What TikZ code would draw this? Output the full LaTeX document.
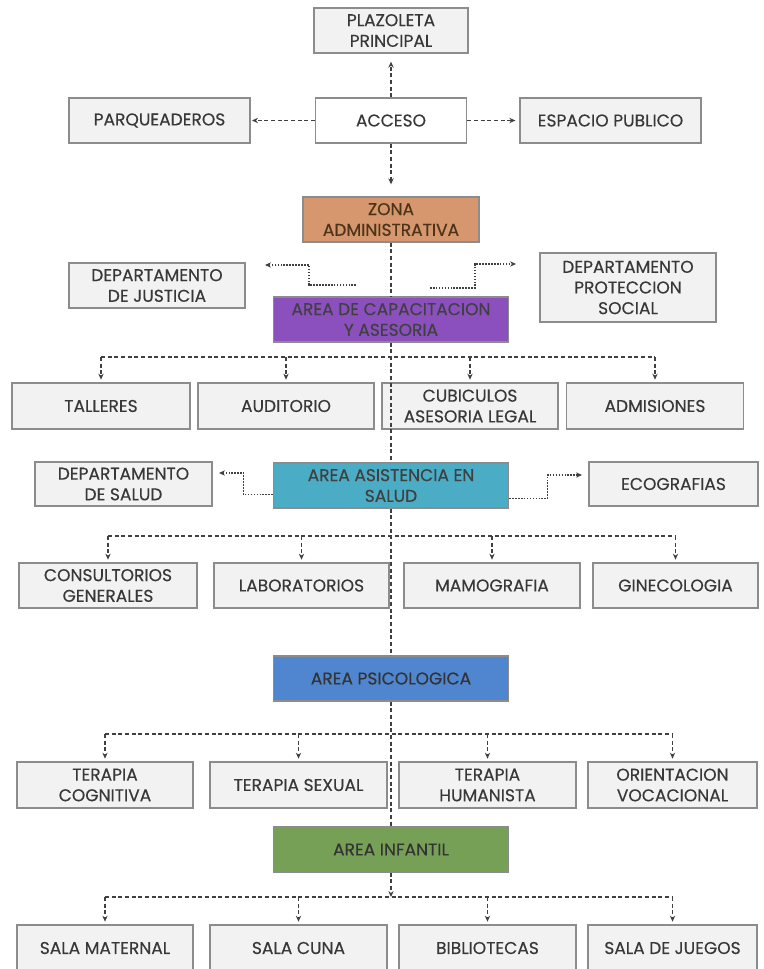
\documentclass[tikz,border=0pt]{standalone}
\usepackage{fontspec}
\setmainfont{Poppins}
\newfontfamily\boxfont{Poppins}[FakeBold=0.3]
\usetikzlibrary{arrows.meta}

\definecolor{boxfill}{HTML}{F2F2F2}
\definecolor{boxline}{HTML}{8C8C8C}
\definecolor{txt}{HTML}{383838}
\definecolor{linegray}{HTML}{404040}
\definecolor{zonafill}{HTML}{D6966E}
\definecolor{capacfill}{HTML}{8C50BE}
\definecolor{asistfill}{HTML}{4BACC6}
\definecolor{psicofill}{HTML}{4F86CF}
\definecolor{infantfill}{HTML}{76A056}

\begin{document}
\begin{tikzpicture}[x=0.75pt,y=-0.75pt]
\tikzset{box/.style={draw=boxline,fill=boxfill,line width=1pt,text=txt,align=center,inner sep=1pt,
            font=\boxfont\fontsize{12.8}{15.5}\selectfont},
        wh/.style 2 args={minimum width=#1*0.75pt,minimum height=#2*0.75pt},
        link/.style={draw=linegray,line width=0.9pt,dash pattern=on 3pt off 2pt},
        sidelink/.style={draw=linegray,line width=0.9pt,dash pattern=on 1.2pt off 1pt},
        tip/.style={-{Stealth[length=4.5pt,width=4pt]}}}
\useasboundingbox (0,0) rectangle (763,969);
% acceso
\node[box,wh={154}{45}] (plazoleta) at (391,30.5) {PLAZOLETA\\PRINCIPAL};
\node[box,wh={151}{45},fill=white] (acceso) at (391,120.5) {ACCESO};
\node[box,wh={181}{45}] (parqueaderos) at (159.5,120.5) {PARQUEADEROS};
\node[box,wh={181}{45}] (espacio) at (610.5,120.5) {ESPACIO PUBLICO};
% zonas
\node[box,wh={176}{45},fill=zonafill,text=brown!40!black] (zona) at (391,219.5) {ZONA\\ADMINISTRATIVA};
\node[box,wh={176}{45}] (justicia) at (157,285.5) {DEPARTAMENTO\\DE JUSTICIA};
\node[box,wh={176}{69}] (proteccion) at (628,287.5) {DEPARTAMENTO\\PROTECCION\\SOCIAL};
\node[box,wh={235}{45},fill=capacfill,text=black!75] (capac) at (391,319.5) {AREA DE CAPACITACION\\Y ASESORIA};
\coordinate (bus1) at (391,357);
\node[box,wh={178}{46}] (talleres) at (101,406) {TALLERES};
\node[box,wh={176}{46}] (auditorio) at (286,406) {AUDITORIO};
\node[box,wh={176}{46}] (cubiculos) at (470,406) {CUBICULOS\\ASESORIA LEGAL};
\node[box,wh={177}{46}] (admisiones) at (655,406) {ADMISIONES};
\node[box,wh={177}{44}] (salud) at (123.5,484) {DEPARTAMENTO\\DE SALUD};
\node[box,wh={235}{45},fill=asistfill,text=black!75] (asist) at (391,485.5) {AREA ASISTENCIA EN\\SALUD};
\node[box,wh={169}{44}] (ecografias) at (673.5,484) {ECOGRAFIAS};
\coordinate (bus3) at (391,536);
\node[box,wh={178}{45}] (consultorios) at (108,585.5) {CONSULTORIOS\\GENERALES};
\node[box,wh={175}{45}] (laboratorios) at (301.5,585.5) {LABORATORIOS};
\node[box,wh={176}{45}] (mamografia) at (492,585.5) {MAMOGRAFIA};
\node[box,wh={165}{45}] (ginecologia) at (675.5,585.5) {GINECOLOGIA};
\node[box,wh={235}{45},fill=psicofill,text=black!80] (psico) at (391,678.5) {AREA PSICOLOGICA};
\coordinate (bus4) at (391,734);
\node[box,wh={176}{46}] (cognitiva) at (105,785) {TERAPIA\\COGNITIVA};
\node[box,wh={177}{46}] (sexual) at (298.5,785) {TERAPIA SEXUAL};
\node[box,wh={177}{46}] (humanista) at (487.5,785) {TERAPIA\\HUMANISTA};
\node[box,wh={169}{46}] (vocacional) at (672.5,785) {ORIENTACION\\VOCACIONAL};
\node[box,wh={235}{45},fill=infantfill,text=black!80] (infantil) at (391,849.5) {AREA INFANTIL};
\coordinate (bus5) at (391,897);
\node[box,wh={176}{46}] (maternal) at (105,948) {SALA MATERNAL};
\node[box,wh={177}{46}] (cuna) at (298.5,948) {SALA CUNA};
\node[box,wh={177}{46}] (bibliotecas) at (487.5,948) {BIBLIOTECAS};
\node[box,wh={169}{46}] (juegos) at (672.5,948) {SALA DE JUEGOS};
% flechas acceso
\draw[link,tip,shorten >=6pt] (acceso) -- (plazoleta);
\draw[link,tip,shorten >=1pt] (acceso) -- (parqueaderos);
\draw[link,tip,shorten >=3pt] (acceso) -- (espacio);
\draw[link,tip,shorten >=9pt] (acceso) -- (zona);
% eje central
\draw[link] (zona) -- (capac);
\draw[link] (capac) -- (asist);
\draw[link] (asist) -- (psico);
\draw[link] (psico) -- (infantil);
\draw[link,tip] (infantil) -- (bus5);
% conexiones laterales
\coordinate (jusA) at (356,285);
\coordinate (jusB) at (265,265);
\coordinate (proA) at (430,288);
\coordinate (proB) at (516,264);
\coordinate (salB) at (219,473);
\coordinate (ecoB) at (582,475);
\draw[sidelink,tip] (jusA) -- ++(-47,0) |- (jusB);
\draw[sidelink,tip] (proA) -- ++(45,0) |- (proB);
\draw[sidelink,tip] ([yshift=-7pt]asist.west) -- ++(-29,0) |- (salB);
\draw[sidelink,tip] ([yshift=-10pt]asist.east) -- ++(38,0) |- (ecoB);
% buses
\draw[link] (talleres |- bus1) -- (admisiones |- bus1);
\foreach \n in {talleres,auditorio,cubiculos,admisiones}
    \draw[link,tip,shorten >=2pt] (\n |- bus1) -- (\n.north);
\draw[link] (consultorios |- bus3) -- (ginecologia |- bus3);
\foreach \n in {consultorios,laboratorios,mamografia,ginecologia}
    \draw[link,tip,shorten >=2pt] (\n |- bus3) -- (\n.north);
\draw[link] (cognitiva |- bus4) -- (vocacional |- bus4);
\foreach \n in {cognitiva,sexual,humanista,vocacional}
    \draw[link,tip,shorten >=2pt] (\n |- bus4) -- (\n.north);
\draw[link] (maternal |- bus5) -- (juegos |- bus5);
\foreach \n in {maternal,cuna,bibliotecas,juegos}
    \draw[link,tip,shorten >=2pt] (\n |- bus5) -- (\n.north);
\end{tikzpicture}
\end{document}
